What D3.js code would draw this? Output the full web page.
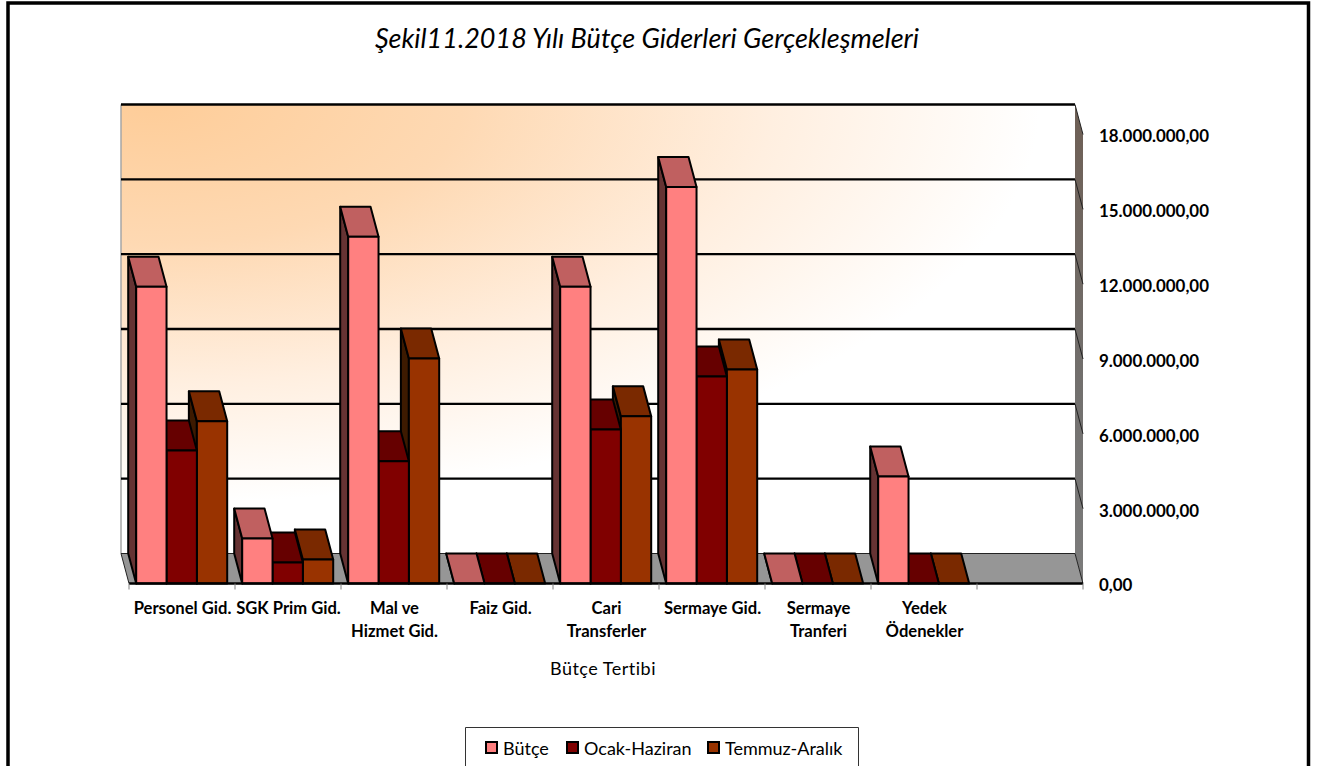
<!DOCTYPE html>
<html>
<head>
<meta charset="utf-8">
<script src="https://cdn.jsdelivr.net/npm/d3@7/dist/d3.min.js"></script>
<style>
  html, body { margin: 0; padding: 0; background: #fff; overflow: hidden; }
  svg { display: block; font-family: Lato, "Open Sans", sans-serif; }
</style>
</head>
<body>
<div id="chart"></div>
<script>
// veriler ---------------------------------------------------------------
const categories = ['Personel Gid.', 'SGK Prim Gid.', 'Mal ve|Hizmet Gid.', 'Faiz Gid.', 'Cari|Transferler', 'Sermaye Gid.', 'Sermaye|Tranferi', 'Yedek|Ödenekler', ''];
const seriesNames = ['Bütçe', 'Ocak-Haziran', 'Temmuz-Aralık'];
const butce = [11900000, 1800000, 13900000, 0, 11900000, 15900000, 0, 4290000, null];
const ocakHaziran = [5330000, 840000, 4900000, 0, 6170000, 8300000, 0, 0, null];
const temmuzAralik = [6500000, 960000, 9020000, 0, 6700000, 8580000, 0, 0, null];
const yTicks = [0, 3000000, 6000000, 9000000, 12000000, 15000000, 18000000];
const titleText = 'Şekil11.2018 Yılı Bütçe Giderleri Gerçekleşmeleri';
const xTitleText = 'Bütçe Tertibi';
const frontColors = ['#ff8080', '#800000', '#993300'];
const topColors = ['#c06060', '#660000', '#7a2900'];
const sideColors = ['#663333', '#400000', '#3d1a00'];

const width = 1322, height = 766;
const depthX = 8, depthY = 30;
const allSeries = [butce, ocakHaziran, temmuzAralik];

const svg = d3.select('#chart').append('svg').attr('width', width).attr('height', height);

// olcekler ---------------------------------------------------------------
const x = d3.scaleBand().domain(d3.range(categories.length)).range([129, 1083]);
const xInner = d3.scaleBand().domain(d3.range(seriesNames.length)).range([7.2, 98.2]);
const y = d3.scaleLinear().domain([0, 18000000]).range([583.5, 134.5]);
const trFormat = d3.formatLocale({decimal: ',', thousands: '.', grouping: [3], currency: ['', '']}).format(',.2f');
const pts = a => a.map(p => p.join(',')).join(' ');

// gradient ---------------------------------------------------------------
const defs = svg.append('defs');
const wallGrad = defs.append('radialGradient')
  .attr('id', 'wallGrad').attr('gradientUnits', 'userSpaceOnUse')
  .attr('cx', 0).attr('cy', 0).attr('r', 1)
  .attr('gradientTransform', 'translate(150,104) scale(890,400)');
wallGrad.append('stop').attr('offset', '0').attr('stop-color', '#fecd99');
wallGrad.append('stop').attr('offset', '0.35').attr('stop-color', '#fed9b3');
wallGrad.append('stop').attr('offset', '0.7').attr('stop-color', '#ffefe0');
wallGrad.append('stop').attr('offset', '1').attr('stop-color', '#ffffff');
const sideGrad = defs.append('linearGradient')
  .attr('id', 'sideGrad').attr('x1', 0).attr('x2', 0).attr('y1', 0).attr('y2', 1);
sideGrad.append('stop').attr('offset', '0').attr('stop-color', '#6e5f55');
sideGrad.append('stop').attr('offset', '0.6').attr('stop-color', '#72706e');
sideGrad.append('stop').attr('offset', '1').attr('stop-color', '#7c7c7c');

// dis cerceve ---------------------------------------------------------------
svg.append('path')
  .attr('d', 'M8,' + height + 'V3H1308.5V' + height)
  .attr('fill', 'none').attr('stroke', '#000').attr('stroke-width', 3.5);

svg.append('text').attr('x', 647).attr('y', 48)
  .attr('text-anchor', 'middle').attr('font-size', 27).attr('font-style', 'italic')
  .attr('fill', '#000').text(titleText);

// duvar, taban ---------------------------------------------------------------
const left = x.range()[0], right = x.range()[1];
const wallX0 = left - depthX, wallX1 = right - depthX;
const yBack = v => y(v) - depthY;

svg.append('rect')
  .attr('x', wallX0).attr('y', yBack(18000000))
  .attr('width', wallX1 - wallX0).attr('height', y(0) - y(18000000))
  .attr('fill', 'url(#wallGrad)');
svg.append('line')
  .attr('x1', wallX0).attr('x2', wallX0)
  .attr('y1', yBack(18000000)).attr('y2', yBack(0))
  .attr('stroke', '#a6a6a6').attr('stroke-width', 1.5);
svg.append('polygon')
  .attr('points', pts([[wallX1, yBack(18000000)], [right, y(18000000)], [right, y(0)], [wallX1, yBack(0)]]))
  .attr('fill', 'url(#sideGrad)');
svg.append('polygon')
  .attr('points', pts([[wallX0, yBack(0)], [wallX1, yBack(0)], [right, y(0)], [left, y(0)]]))
  .attr('fill', '#969696').attr('stroke', '#222').attr('stroke-width', 1);

// kilavuz cizgileri ---------------------------------------------------------
const grid = svg.append('g').selectAll('g').data(yTicks.filter(d => d > 0)).enter().append('g');
grid.append('line')
  .attr('x1', wallX0).attr('x2', wallX1)
  .attr('y1', d => yBack(d)).attr('y2', d => yBack(d))
  .attr('stroke', '#000').attr('stroke-width', 2.4);
grid.append('line')
  .attr('x1', wallX1).attr('x2', right)
  .attr('y1', d => yBack(d)).attr('y2', d => y(d))
  .attr('stroke', '#222').attr('stroke-width', 1);

// cubuklar: sagdan sola cizilir, sol cubuk sagdakinin ustunu kapatir -----------
const bars = [];
categories.forEach((c, i) => {
  allSeries.forEach((s, j) => {
    if (s[i] !== null) bars.push({cat: i, ser: j, value: s[i]});
  });
});
bars.sort((a, b) => (b.cat - a.cat) || (b.ser - a.ser));

const barG = svg.append('g').selectAll('g').data(bars).enter().append('g')
  .attr('stroke', '#000').attr('stroke-width', 2).attr('stroke-linejoin', 'round');
const bx0 = d => x(d.cat) + xInner(d.ser);
const bx1 = d => bx0(d) + xInner.bandwidth();

barG.append('polygon')
  .attr('fill', d => sideColors[d.ser])
  .attr('points', d => pts([[bx0(d) - depthX, y(d.value) - depthY], [bx0(d), y(d.value)], [bx0(d), y(0)], [bx0(d) - depthX, y(0) - depthY]]));
barG.append('polygon')
  .attr('fill', d => topColors[d.ser])
  .attr('points', d => pts([[bx0(d) - depthX, y(d.value) - depthY], [bx1(d) - depthX, y(d.value) - depthY], [bx1(d), y(d.value)], [bx0(d), y(d.value)]]));
barG.append('rect')
  .attr('fill', d => frontColors[d.ser])
  .attr('x', bx0).attr('y', d => y(d.value))
  .attr('width', xInner.bandwidth()).attr('height', d => y(0) - y(d.value));

// eksenler ---------------------------------------------------------------
svg.append('line')
  .attr('x1', left).attr('x2', right).attr('y1', y(0)).attr('y2', y(0))
  .attr('stroke', '#000').attr('stroke-width', 2.5);
svg.append('g').selectAll('line').data(d3.range(categories.length + 1)).enter().append('line')
  .attr('x1', d => left + d * x.step()).attr('x2', d => left + d * x.step())
  .attr('y1', y(0)).attr('y2', y(0) + 6)
  .attr('stroke', '#808080').attr('stroke-width', 1);

const yAxis = svg.append('g')
  .attr('transform', 'translate(' + right + ',2)')
  .call(d3.axisRight(y).tickValues(yTicks).tickFormat(trFormat).tickSize(0).tickPadding(16));
yAxis.select('.domain').remove();
yAxis.selectAll('text')
  .attr('font-family', 'Lato, "Open Sans", sans-serif')
  .attr('font-size', 16.9).attr('font-weight', 700).attr('fill', '#000');

const xLabels = svg.append('g').selectAll('text').data(categories).enter().append('text')
  .attr('text-anchor', 'middle').attr('font-size', 16.6).attr('font-weight', 700).attr('fill', '#000');
xLabels.selectAll('tspan').data((d, i) => d.split('|').map(t => ({t: t, i: i}))).enter().append('tspan')
  .attr('x', d => x(d.i) + x.bandwidth() / 2 + 0.5)
  .attr('y', (d, k) => 614 + k * 23)
  .text(d => d.t);

svg.append('text').attr('x', 603).attr('y', 675)
  .attr('text-anchor', 'middle').attr('font-size', 18).attr('letter-spacing', 0.5).attr('fill', '#000').text(xTitleText);

// lejant ---------------------------------------------------------------
svg.append('path').attr('d', 'M465.5,' + height + 'V727.5H858.5V' + height)
  .attr('fill', '#fff').attr('stroke', '#333').attr('stroke-width', 1);
const legendX = [486, 567, 708];
const legend = svg.append('g').selectAll('g').data(seriesNames).enter().append('g')
  .attr('transform', (d, i) => 'translate(' + legendX[i] + ',742)');
legend.append('rect').attr('width', 11).attr('height', 11)
  .attr('fill', (d, i) => frontColors[i]).attr('stroke', '#000').attr('stroke-width', 2);
legend.append('text').attr('x', 17).attr('y', 12.5)
  .attr('font-size', 18).attr('fill', '#000').text(d => d);
</script>
</body>
</html>
